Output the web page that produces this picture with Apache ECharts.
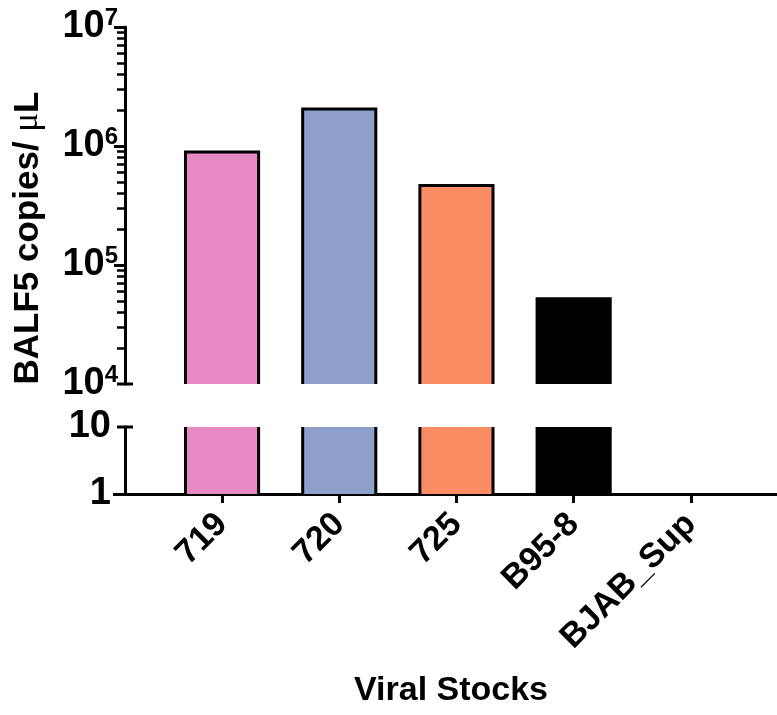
<!DOCTYPE html>
<html>
<head>
<meta charset="utf-8">
<script src="https://cdn.jsdelivr.net/npm/echarts@6/dist/echarts.min.js"></script>
<style>
html,body{margin:0;padding:0;background:#ffffff;}
#chart{width:777px;height:715px;}
</style>
</head>
<body>
<div id="chart"></div>
<script>
// ---- data ----
const categories = ['719', '720', '725', 'B95-8', 'BJAB_Sup'];
const copies = [8.9e5, 2.05e6, 4.65e5, 5.2e4, 0];
const barColors = ['#E78AC3', '#8DA0CB', '#FC8D62', '#000000', '#FFFFFF'];
const upperMajorTicks = [1e4, 1e5, 1e6, 1e7];
const upperMinorTicks = [2e4, 3e4, 4e4, 5e4, 6e4, 7e4, 8e4, 9e4,
                         2e5, 3e5, 4e5, 5e5, 6e5, 7e5, 8e5, 9e5,
                         2e6, 3e6, 4e6, 5e6, 6e6, 7e6, 8e6, 9e6];
const lowerTicks = [1, 10];
const xTitle = 'Viral Stocks';
const yTitle = 'BALF5 copies/ μL';

const UPPER_MIN = 1e4, UPPER_MAX = 1e7;
const LOWER_MIN = 1, LOWER_MAX = 10;
const FONT = 'Liberation Sans';
const BAR_HALF = 0.312;   // half bar width in category units
const CAP_HALF = 8;       // half length (px) of the axis-break caps

const chart = echarts.init(document.getElementById('chart'), null, {renderer: 'canvas'});

const seriesData = categories.map((c, i) => ({
  value: [i, copies[i]],
  itemStyle: {color: barColors[i]}
}));

function makeRender(lo, hi) {
  return function (params, api) {
    const i = api.value(0), v = api.value(1);
    if (!(v > lo)) return null;
    const vt = Math.min(v, hi);
    const top = api.coord([i, vt]);
    const base = api.coord([i, lo]);
    const hw = api.coord([i + BAR_HALF, vt])[0] - top[0];
    const l = top[0] - hw, r = top[0] + hw;
    const color = api.visual('color');
    const children = [{
      type: 'rect',
      shape: {x: l, y: top[1], width: r - l, height: base[1] - top[1]},
      style: {fill: color}
    }];
    const lineStyle = {stroke: '#000', lineWidth: 3, fill: null, lineJoin: 'miter'};
    if (v <= hi) {
      children.push({type: 'polyline',
        shape: {points: [[l, base[1]], [l, top[1]], [r, top[1]], [r, base[1]]]},
        style: lineStyle});
    } else {
      children.push({type: 'line', shape: {x1: l, y1: base[1], x2: l, y2: top[1]}, style: lineStyle});
      children.push({type: 'line', shape: {x1: r, y1: base[1], x2: r, y2: top[1]}, style: lineStyle});
    }
    return {type: 'group', children: children};
  };
}

// break caps: short horizontal bars crossing the y axis at the break ends
function renderCap(params, api) {
  const p = api.coord([api.value(0), api.value(1)]);
  return {type: 'group', children: [{type: 'rect',
    shape: {x: p[0] - CAP_HALF, y: p[1] - 1.5, width: 2 * CAP_HALF, height: 3},
    style: {fill: '#000000'}}]};
}

const xMin = -0.828, xMax = 4.735;
const tickIdx = categories.map((c, i) => i);

function hiddenY(gridIndex, min, max, ticks, len, width) {
  return {
    type: 'log', logBase: 10, gridIndex: gridIndex, min: min, max: max,
    position: 'left', offset: 0,
    axisLine: {show: false, onZero: false},
    axisTick: {show: true, inside: false, length: len, customValues: ticks,
               lineStyle: {color: '#000', width: width}},
    axisLabel: {show: false},
    splitLine: {show: false}
  };
}

const option = {
  animation: false,
  backgroundColor: '#ffffff',
  grid: [
    {left: 125, right: 0, top: 27, height: 357},
    {left: 125, right: 0, top: 427, height: 67}
  ],
  xAxis: [
    {type: 'value', gridIndex: 0, min: xMin, max: xMax, show: false},
    {type: 'value', gridIndex: 1, min: xMin, max: xMax, position: 'bottom',
     axisLine: {show: true, onZero: false, lineStyle: {color: '#000', width: 3}},
     axisTick: {show: true, length: 9, customValues: tickIdx, lineStyle: {color: '#000', width: 3}},
     axisLabel: {show: true, customValues: tickIdx, rotate: 45, margin: 25,
                 color: '#000', fontFamily: FONT, fontWeight: 'bold', fontSize: 34,
                 formatter: v => categories[Math.round(v)]},
     splitLine: {show: false},
     name: xTitle, nameLocation: 'middle', nameGap: 180,
     nameTextStyle: {color: '#000', fontFamily: FONT, fontWeight: 'bold', fontSize: 34}}
  ],
  yAxis: [
    {type: 'log', logBase: 10, gridIndex: 0, min: UPPER_MIN, max: UPPER_MAX,
     position: 'left', offset: 0,
     axisLine: {show: true, onZero: false, lineStyle: {color: '#000', width: 3}},
     axisTick: {show: true, length: 11, customValues: upperMajorTicks.slice(1),
                lineStyle: {color: '#000', width: 3}},
     axisLabel: {show: true, customValues: upperMajorTicks, margin: 7, color: '#000',
                 formatter: v => '{b|10}{s|' + Math.round(Math.log10(v)) + '}',
                 rich: {
                   b: {fontFamily: FONT, fontWeight: 'bold', fontSize: 38, lineHeight: 42, color: '#000'},
                   s: {fontFamily: FONT, fontWeight: 'bold', fontSize: 24, lineHeight: 37,
                       verticalAlign: 'top', color: '#000'}
                 }},
     splitLine: {show: false}},
    hiddenY(0, UPPER_MIN, UPPER_MAX, upperMinorTicks, 8, 2.5),
    {type: 'log', logBase: 10, gridIndex: 1, min: LOWER_MIN, max: LOWER_MAX,
     position: 'left', offset: 0,
     axisLine: {show: true, onZero: false, lineStyle: {color: '#000', width: 3}},
     axisTick: {show: true, length: 12, customValues: [LOWER_MIN], lineStyle: {color: '#000', width: 3}},
     axisLabel: {show: true, customValues: lowerTicks, margin: 14, color: '#000',
                 fontFamily: FONT, fontWeight: 'bold', fontSize: 38,
                 formatter: v => String(Math.round(v))},
     splitLine: {show: false}}
  ],
  series: [
    {type: 'custom', name: 'upper', xAxisIndex: 0, yAxisIndex: 0,
     encode: {x: 0, y: 1}, data: seriesData,
     renderItem: makeRender(UPPER_MIN, UPPER_MAX)},
    {type: 'custom', name: 'lower', xAxisIndex: 1, yAxisIndex: 2,
     encode: {x: 0, y: 1}, data: seriesData,
     renderItem: makeRender(LOWER_MIN, LOWER_MAX)},
    {type: 'custom', name: 'capUpper', xAxisIndex: 0, yAxisIndex: 0, clip: false,
     encode: {x: 0, y: 1}, data: [[xMin, UPPER_MIN]], renderItem: renderCap, z: 5},
    {type: 'custom', name: 'capLower', xAxisIndex: 1, yAxisIndex: 2, clip: false,
     encode: {x: 0, y: 1}, data: [[xMin, LOWER_MAX]], renderItem: renderCap, z: 5}
  ],
  graphic: [{
    type: 'text', x: 28, y: 238, rotation: Math.PI / 2,
    style: {
      text: '{t|' + yTitle.split('μ')[0] + '}{m|μ}{t|' + yTitle.split('μ')[1] + '}',
      align: 'center', verticalAlign: 'middle',
      rich: {
        t: {fontFamily: FONT, fontWeight: 'bold', fontSize: 35, fill: '#000'},
        m: {fontFamily: 'Liberation Serif', fontWeight: 'normal', fontSize: 35, fill: '#000'}
      }
    }
  }]
};

chart.setOption(option);
</script>
</body>
</html>
